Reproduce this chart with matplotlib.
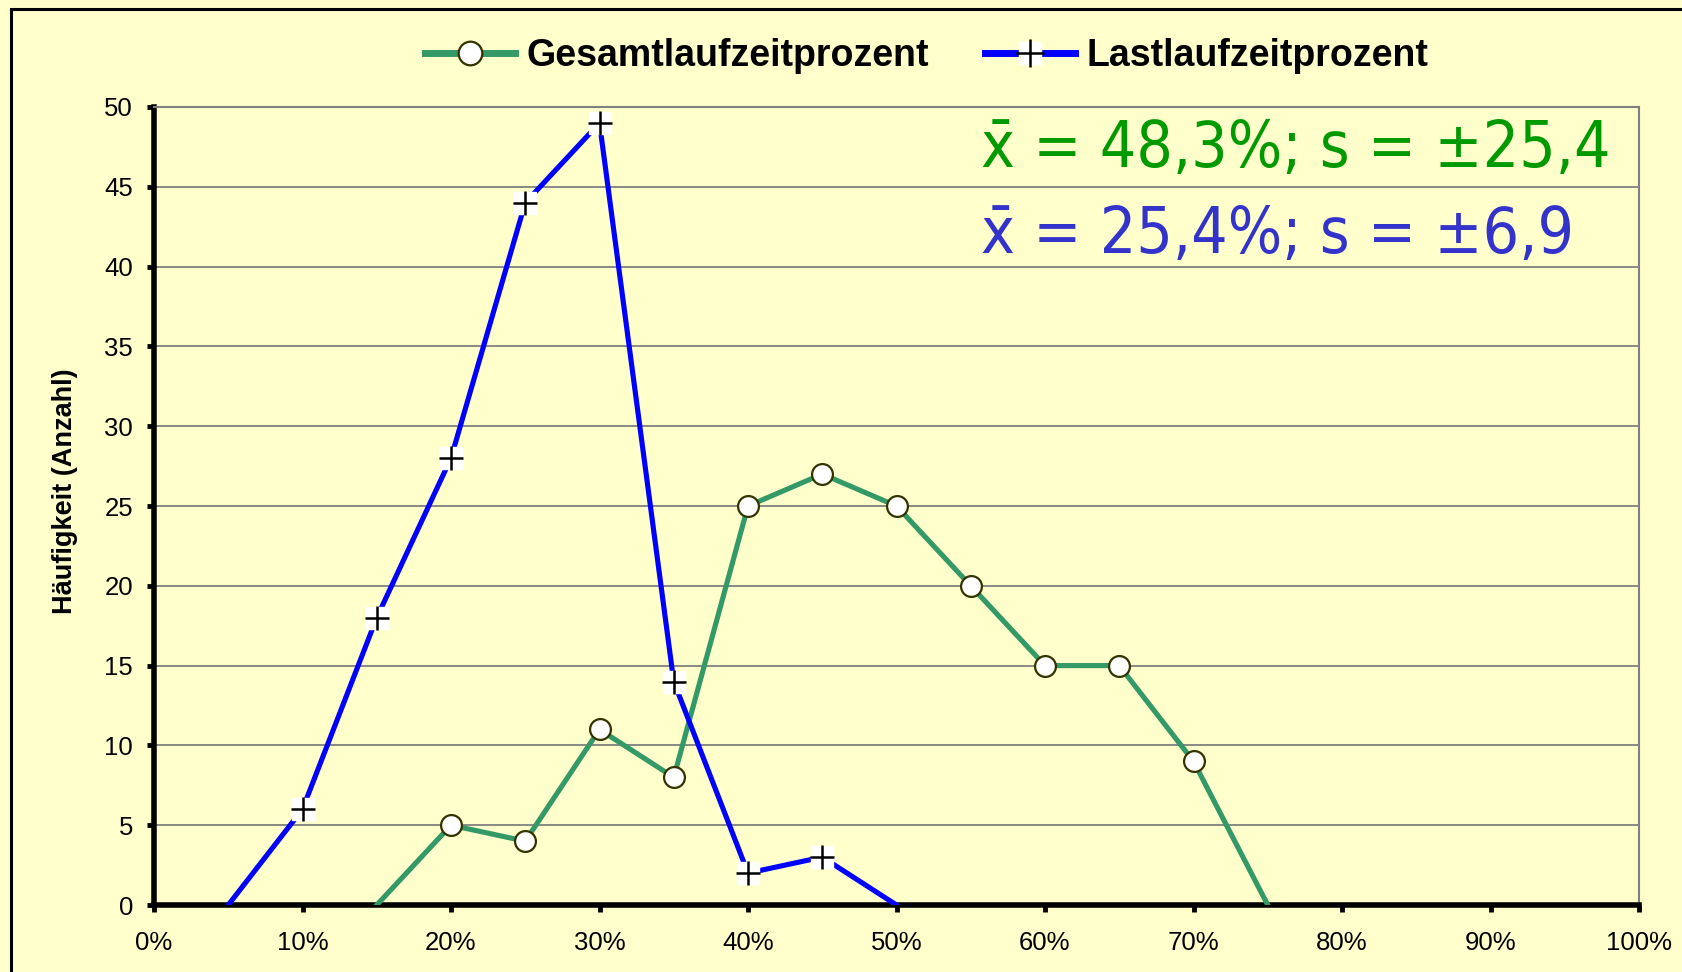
import matplotlib.pyplot as plt
from matplotlib.patches import Rectangle
from matplotlib.lines import Line2D
from matplotlib.legend_handler import HandlerTuple

# Klassen (Laufzeitprozent) und Häufigkeiten
x_gesamt = [15, 20, 25, 30, 35, 40, 45, 50, 55, 60, 65, 70, 75]
y_gesamt = [0, 5, 4, 11, 8, 25, 27, 25, 20, 15, 15, 9, 0]

x_last = [5, 10, 15, 20, 25, 30, 35, 40, 45, 50]
y_last = [0, 6, 18, 28, 44, 49, 14, 2, 3, 0]

x_ticks = list(range(0, 101, 10))
x_ticklabels = [f'{v}%' for v in x_ticks]
y_ticks = list(range(0, 51, 5))

stat_gesamt = 'x\u0304 = 48,3%; s = ±25,4'
stat_last = 'x\u0304 = 25,4%; s = ±6,9'

BG = '#FFFFCC'
GREEN = '#339966'
BLUE = '#0000FF'

fig = plt.figure(figsize=(16.82, 9.72), dpi=100, facecolor=BG)
ax = fig.add_axes([154 / 1682, 67 / 972, 1485 / 1682, 798 / 972])
ax.set_facecolor(BG)

# Rahmen um das Diagramm
fig.patches.append(Rectangle((11 / 1682, -0.1), 1.2, 1 - 9 / 972 + 0.1,
                             transform=fig.transFigure, fill=False,
                             edgecolor='black', linewidth=2.2, zorder=0))

ax.set_xlim(0, 100)
ax.set_ylim(0, 50)
ax.yaxis.grid(True, color='#808080', linewidth=1.3)
ax.set_axisbelow(True)

# Marker nur an Werten > 0
mk_g = [i for i, v in enumerate(y_gesamt) if v > 0]
mk_l = [i for i, v in enumerate(y_last) if v > 0]

ax.plot(x_gesamt, y_gesamt, color=GREEN, linewidth=3.7, zorder=3,
        marker='o', markevery=mk_g, markersize=15, markerfacecolor='white',
        markeredgecolor='#333300', markeredgewidth=1.6)

ax.plot(x_last, y_last, color=BLUE, linewidth=3.7, zorder=4)
xl = [x_last[i] for i in mk_l]
yl = [y_last[i] for i in mk_l]
ax.plot(xl, yl, linestyle='none', marker='s', markersize=16,
        markerfacecolor='white', markeredgecolor='white', zorder=5)
ax.plot(xl, yl, linestyle='none', marker='+', markersize=17,
        markeredgecolor='black', markeredgewidth=1.8, zorder=6)

for side in ['top', 'right']:
    ax.spines[side].set_color('#808080')
    ax.spines[side].set_linewidth(1.5)
for side in ['left', 'bottom']:
    ax.spines[side].set_color('black')
    ax.spines[side].set_linewidth(4)

ax.set_xticks(x_ticks)
ax.set_xticklabels(x_ticklabels)
ax.set_yticks(y_ticks)
ax.tick_params(axis='both', direction='out', length=5, width=3.5, color='black',
               labelsize=18.5, labelfontfamily='Liberation Sans')
ax.tick_params(axis='x', pad=14)
ax.tick_params(axis='y', pad=10)

ax.set_ylabel('Häufigkeit (Anzahl)', fontsize=19.5, fontweight='bold',
              family='Liberation Sans')
ax.yaxis.set_label_coords(-0.051, 0.519)

# Legende
h_gesamt = Line2D([], [], color=GREEN, linewidth=5, marker='o', markersize=17,
                  markerfacecolor='white', markeredgecolor='#333300',
                  markeredgewidth=1.6)
h_last = (Line2D([], [], color=BLUE, linewidth=5),
          Line2D([], [], linestyle='none', marker='s', markersize=16,
                 markerfacecolor='white', markeredgecolor='white'),
          Line2D([], [], linestyle='none', marker='+', markersize=20,
                 markeredgecolor='black', markeredgewidth=1.8))
fig.legend([h_gesamt, h_last], ['Gesamtlaufzeitprozent', 'Lastlaufzeitprozent'],
           handler_map={tuple: HandlerTuple(ndivide=1, pad=0)},
           loc='center', bbox_to_anchor=(927 / 1682, 1 - 56 / 972), ncol=2,
           frameon=False, handlelength=2.4, columnspacing=1.5,
           handletextpad=0.3,
           prop={'family': 'Liberation Sans', 'weight': 'bold', 'size': 27})

# Kennwerte
ax.text(0.557, 0.947, stat_gesamt, transform=ax.transAxes, color='#009900',
        fontsize=46, family='DejaVu Sans', fontstretch='condensed',
        ha='left', va='center')
ax.text(0.557, 0.839, stat_last, transform=ax.transAxes, color='#3333CC',
        fontsize=46, family='DejaVu Sans', fontstretch='condensed',
        ha='left', va='center')

fig.savefig('out.png', dpi=100, facecolor=BG)
